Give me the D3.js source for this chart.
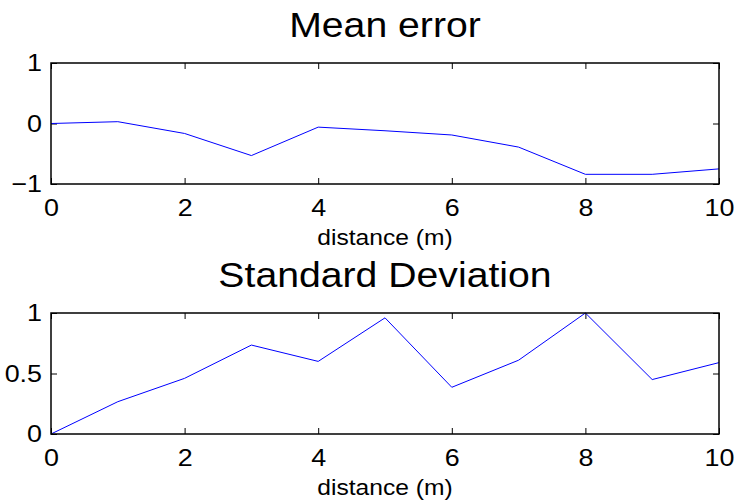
<!DOCTYPE html>
<html>
<head>
<meta charset="utf-8">
<script src="https://cdn.jsdelivr.net/npm/d3@7"></script>
<style>
  body { margin: 0; background: #fff; }
  svg { display: block; }
  text { font-family: "Liberation Sans", Arial, Helvetica, sans-serif; fill: #000; }
</style>
</head>
<body>
<div id="chart"></div>
<script>
// Datos
const distance = [0, 1, 2, 3, 4, 5, 6, 7, 8, 9, 10];
const meanError = [0, 0.03, -0.165, -0.53, -0.06, -0.12, -0.19, -0.39, -0.84, -0.84, -0.75];
const stdDev = [0, 0.267, 0.46, 0.735, 0.60, 0.96, 0.386, 0.61, 1.0, 0.45, 0.59];

const xTicks = [0, 2, 4, 6, 8, 10];
const meanTicks = [-1, 0, 1];
const stdTicks = [0, 0.5, 1];

const width = 738;
const height = 504;
const stretch = 1.12; // el texto original esta algo estirado en horizontal

const svg = d3.select("#chart")
    .append("svg")
    .attr("width", width)
    .attr("height", height);

const xScale = d3.scaleLinear()
    .domain([0, 10])
    .range([51, 719]);

// Dibuja un panel con su marco, ticks hacia dentro, titulo y etiqueta
function drawPanel(opts) {
    const yScale = d3.scaleLinear()
        .domain(opts.domain)
        .range([opts.bottom, opts.top]);

    const g = svg.append("g");

    // ticks inferiores con etiquetas
    const xAxis = g.append("g")
        .attr("transform", `translate(0,${opts.bottom})`)
        .call(d3.axisBottom(xScale).tickValues(xTicks).tickSize(-6).tickSizeOuter(0).tickPadding(15));

    // ticks superiores
    g.append("g")
        .attr("transform", `translate(0,${opts.top})`)
        .call(d3.axisTop(xScale).tickValues(xTicks).tickSize(-6).tickSizeOuter(0).tickFormat(""));

    // ticks izquierda con etiquetas
    const yAxis = g.append("g")
        .attr("transform", `translate(${xScale.range()[0]},0)`)
        .call(d3.axisLeft(yScale).tickValues(opts.ticks).tickSize(-6).tickSizeOuter(0)
            .tickPadding(9).tickFormat(opts.format));

    // ticks derecha
    g.append("g")
        .attr("transform", `translate(${xScale.range()[1]},0)`)
        .call(d3.axisRight(yScale).tickValues(opts.ticks).tickSize(-6).tickSizeOuter(0).tickFormat(""));

    g.selectAll(".domain").remove();
    g.selectAll(".tick line").attr("stroke", "#000").attr("stroke-width", 1);

    xAxis.selectAll("text")
        .attr("font-size", 24)
        .attr("font-family", null)
        .attr("transform", `scale(${stretch},1)`);

    yAxis.selectAll("text")
        .attr("font-size", 24)
        .attr("font-family", null)
        .attr("x", -9 / stretch)
        .attr("transform", `scale(${stretch},1)`);

    // linea de datos
    const line = d3.line()
        .x((d, i) => xScale(distance[i]))
        .y(d => yScale(d));

    g.append("path")
        .datum(opts.values)
        .attr("fill", "none")
        .attr("stroke", "#0000ff")
        .attr("stroke-width", 1)
        .attr("d", line);

    // marco
    g.append("rect")
        .attr("x", xScale.range()[0])
        .attr("y", opts.top)
        .attr("width", xScale.range()[1] - xScale.range()[0])
        .attr("height", opts.bottom - opts.top)
        .attr("fill", "none")
        .attr("stroke", "#000")
        .attr("stroke-width", 1.5);

    const cx = (xScale.range()[0] + xScale.range()[1]) / 2;

    // titulo
    g.append("text")
        .attr("transform", `translate(${cx},${opts.top - 26}) scale(${stretch},1)`)
        .attr("text-anchor", "middle")
        .attr("font-size", 35)
        .text(opts.title);

    // etiqueta eje x
    g.append("text")
        .attr("transform", `translate(${cx},${opts.bottom + 61}) scale(${stretch},1)`)
        .attr("text-anchor", "middle")
        .attr("font-size", 22)
        .text("distance (m)");
}

drawPanel({
    top: 63, bottom: 184,
    domain: [-1, 1],
    ticks: meanTicks,
    format: d => d < 0 ? "\u2212" + Math.abs(d) : String(d),
    values: meanError,
    title: "Mean error"
});

drawPanel({
    top: 313, bottom: 434,
    domain: [0, 1],
    ticks: stdTicks,
    format: d => String(d),
    values: stdDev,
    title: "Standard Deviation"
});
</script>
</body>
</html>
